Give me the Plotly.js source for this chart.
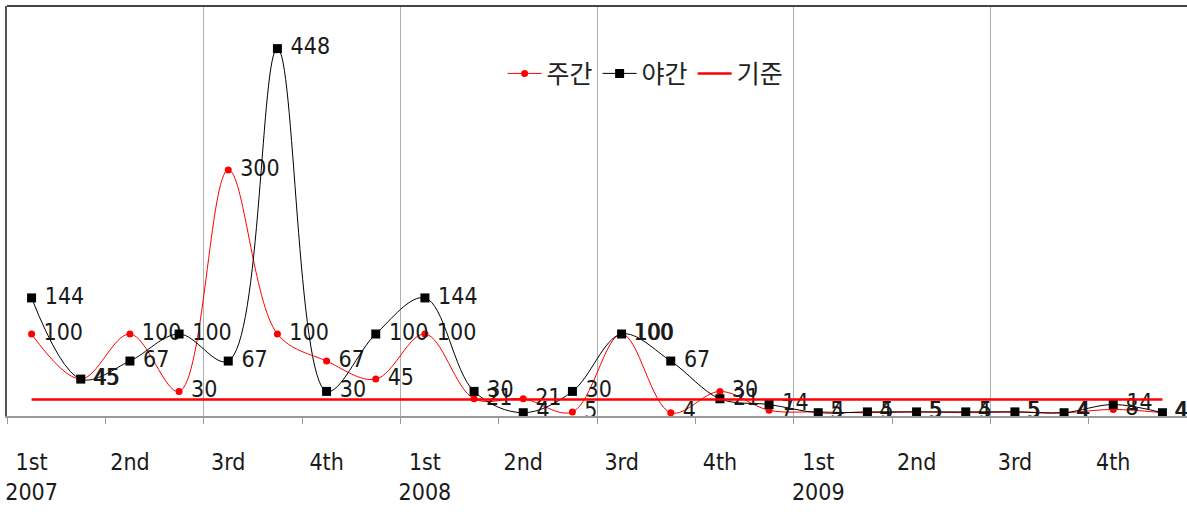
<!DOCTYPE html>
<html><head><meta charset="utf-8">
<script src="https://cdn.plot.ly/plotly-3.0.1.min.js"></script>
<style>html,body{margin:0;padding:0;background:#fff}#c{width:1187px;height:512px}</style>
</head><body><div id="c"></div>
<script>
const quarters = ['1st','','2nd','','3rd','','4th','','1st','','2nd','','3rd','','4th','','1st','','2nd','','3rd','','4th',''];
const years = ['2007','','','','','','','','2008','','','','','','','','2009','','','','','','',''];
const dayValues =   [100,45,100,30,300,100,67,45,100,21,21,5,100,4,30,7,5,4,5,4,5,4,8,4];
const nightValues = [144,45,67,100,67,448,30,100,144,30,4,30,100,67,21,14,4,5,5,5,5,4,14,4];
const standardValue = 20;
const seriesNames = ['주간','야간','기준'];

const idx = dayValues.map((_, i) => i);
const labelFont = {family: '"Liberation Sans Narrow","DejaVu Sans Condensed",Arial', size: 23, color: '#1a1a1a'};
const pad = '\u00a0';

const traces = [
  {x: idx, y: dayValues, name: seriesNames[0], type: 'scatter', mode: 'lines+markers+text',
   line: {color: '#ff0000', width: 1, shape: 'spline', smoothing: 1},
   marker: {color: '#ff0000', size: 7, symbol: 'circle'},
   text: dayValues.map(v => pad + v), textposition: 'middle right', textfont: labelFont, cliponaxis: false},
  {x: idx, y: nightValues, name: seriesNames[1], type: 'scatter', mode: 'lines+markers+text',
   line: {color: '#000000', width: 1, shape: 'spline', smoothing: 1},
   marker: {color: '#000000', size: 9, symbol: 'square'},
   text: nightValues.map(v => pad + v), textposition: 'middle right', textfont: labelFont, cliponaxis: false},
  {x: idx, y: idx.map(() => standardValue), name: seriesNames[2], type: 'scatter', mode: 'lines',
   line: {color: '#ff0000', width: 2.5}, xaxis: 'x2'}
];

const ticktext = quarters.map((q, i) => q ? (years[i] ? q + '<br>' + years[i] : q) : '');
const tickvals = idx.filter(i => quarters[i]);

const layout = {
  width: 1187, height: 512,
  margin: {l: 7, r: 0, t: 6, b: 96},
  paper_bgcolor: '#fff', plot_bgcolor: '#fff',
  showlegend: true,
  legend: {orientation: 'h', x: 0.42, y: 0.835, xanchor: 'left', yanchor: 'middle',
           font: {family: '"Noto Sans CJK KR"', size: 25, color: '#222'}, bgcolor: 'rgba(0,0,0,0)', itemwidth: 34, tracegroupgap: 0},
  xaxis: {range: [-0.5, 23.5], tickmode: 'array', tickvals: tickvals, ticktext: tickvals.map(i => ticktext[i]),
          ticks: '', showgrid: false, zeroline: false, showline: false, ticklabelstandoff: 30,
          tickfont: labelFont, fixedrange: true},
  xaxis2: {range: [-0.5, 23.5], overlaying: 'x', anchor: 'y', side: 'bottom', tickmode: 'linear', tick0: -0.5, dtick: 4,
           showgrid: true, gridcolor: '#b0b0b0', gridwidth: 1, ticks: 'outside', ticklen: 6, tickcolor: '#999',
           showticklabels: false, showline: true, linecolor: '#999', linewidth: 1.5, zeroline: false,
           minor: {tickmode: 'linear', tick0: -0.5, dtick: 2, ticks: 'outside', ticklen: 6, tickcolor: '#999', showgrid: false}},
  yaxis: {range: [0, 500], showticklabels: false, showgrid: false,
          zeroline: false, showline: true, linecolor: '#555', linewidth: 2, ticks: ''},
  shapes: [{type: 'line', xref: 'paper', yref: 'paper', x0: 0, x1: 1, y0: 1, y1: 1, line: {color: '#444', width: 2}}]
};

Plotly.newPlot('c', traces, layout, {displayModeBar: false, staticPlot: true});
</script></body></html>
